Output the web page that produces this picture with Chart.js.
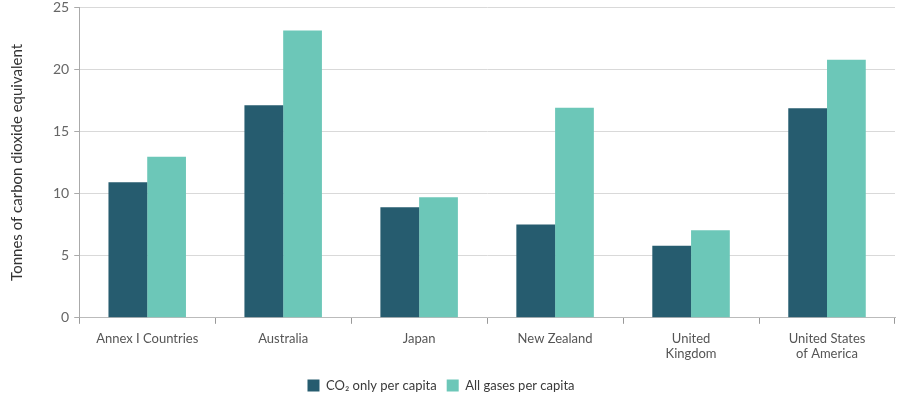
<!DOCTYPE html>
<html>
<head>
<meta charset="utf-8">
<script src="https://cdn.jsdelivr.net/npm/chart.js@4"></script>
<style>
html,body{margin:0;padding:0;background:#fff;}
#wrap{width:900px;height:397px;position:relative;}
</style>
</head>
<body>
<div id="wrap"><canvas id="c" width="900" height="397"></canvas></div>
<script>
const categories = ["Annex I Countries", "Australia", "Japan", "New Zealand", ["United", "Kingdom"], ["United States", "of America"]];
const co2Only = [10.9, 17.1, 8.9, 7.5, 5.8, 16.85];
const allGases = [12.95, 23.1, 9.7, 16.9, 7.05, 20.75];
const yTicks = [0, 5, 10, 15, 20, 25];
const seriesNames = ["CO\u2082 only per capita", "All gases per capita"];

Chart.defaults.font.family = "Lato, 'Noto Sans', sans-serif";
Chart.defaults.color = "#555";

const legendTrim = {
  id: 'legendTrim',
  afterInit(chart) {
    const lg = chart.legend;
    if (lg && !lg._trimmed) {
      const orig = lg.fit;
      lg.fit = function () { orig.call(this); this.height -= 5; };
      lg._trimmed = true;
    }
  },
  afterLayout(chart) {
    const lg = chart.legend;
    if (lg) { lg.left -= 9; lg.right -= 9; }
  }
};

new Chart(document.getElementById('c'), {
  type: 'bar',
  data: {
    labels: categories,
    datasets: [
      { label: seriesNames[0], data: co2Only, backgroundColor: '#265c6f', categoryPercentage: 0.57, barPercentage: 1.0 },
      { label: seriesNames[1], data: allGases, backgroundColor: '#6cc7b8', categoryPercentage: 0.57, barPercentage: 1.0 }
    ]
  },
  plugins: [legendTrim],
  options: {
    responsive: false,
    animation: false,
    layout: { padding: { top: 0, right: 5, left: 5, bottom: 0 } },
    plugins: {
      legend: {
        position: 'bottom',
        labels: { boxWidth: 12, boxHeight: 12, padding: 10, font: { size: 13 }, color: '#3a3a3a' }
      },
      tooltip: { enabled: false }
    },
    scales: {
      x: {
        grid: { display: true, drawOnChartArea: false, offset: true, tickLength: 6, color: '#999' },
        border: { color: '#bbb' },
        ticks: { font: { size: 13 }, color: '#555', maxRotation: 0, autoSkip: false, padding: 7 }
      },
      y: {
        min: 0, max: 25,
        afterBuildTicks: (axis) => { axis.ticks = yTicks.map(v => ({ value: v })); },
        afterFit: (axis) => { axis.paddingTop = 7; },
        grid: { color: '#d9d9d9', tickLength: 5, tickColor: '#aaa' },
        border: { color: '#aaa' },
        ticks: { font: { size: 14 }, color: '#666', padding: 5 },
        title: { display: true, text: 'Tonnes of carbon dioxide equivalent', font: { size: 15 }, color: '#333', padding: { top: 3, bottom: 22 } }
      }
    }
  }
});
</script>
</body>
</html>
